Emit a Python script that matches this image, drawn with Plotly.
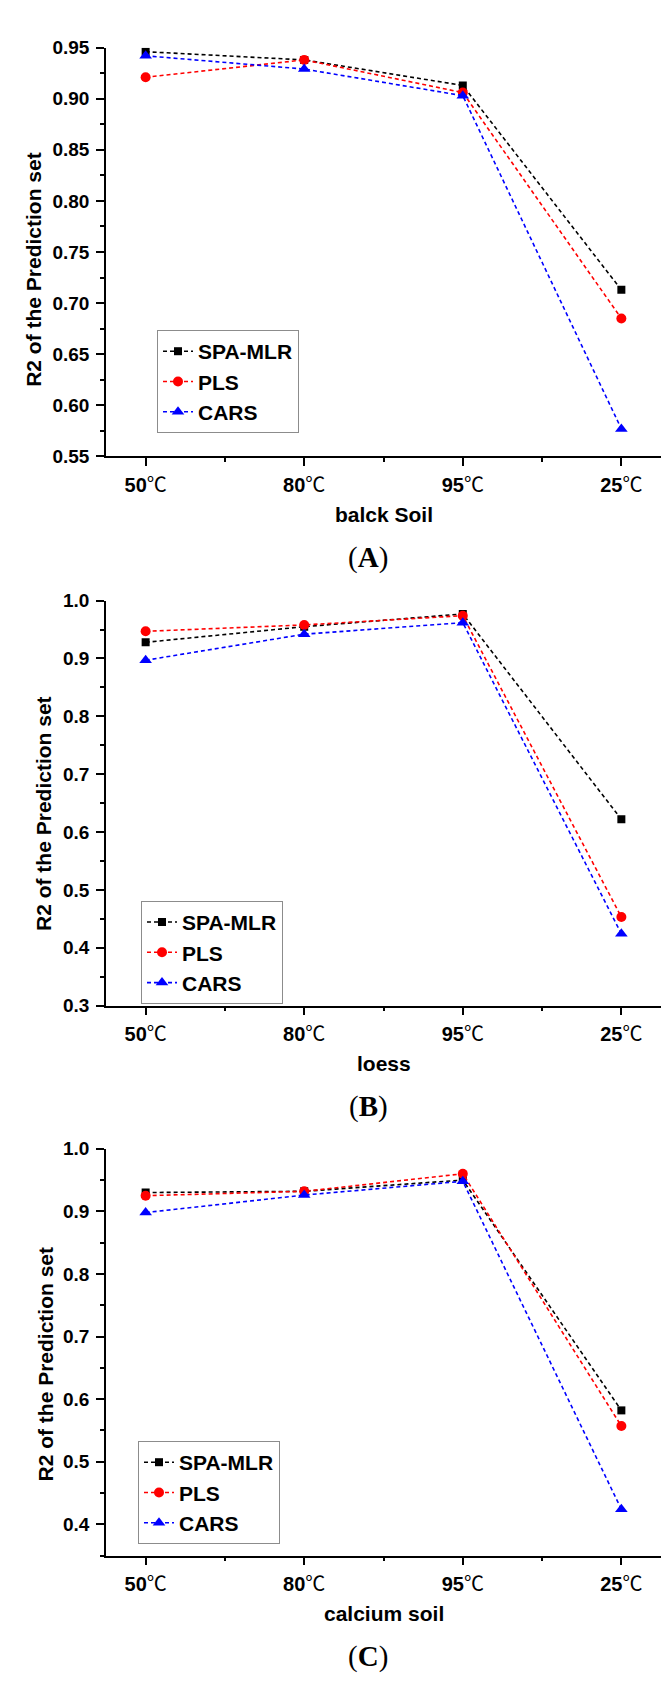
import plotly.graph_objects as go

# ---------------- data ----------------
categories = ["50℃", "80℃", "95℃", "25℃"]
series_names = ["SPA-MLR", "PLS", "CARS"]

a_spa = [0.946, 0.938, 0.913, 0.713]
a_pls = [0.921, 0.938, 0.906, 0.685]
a_cars = [0.942, 0.929, 0.903, 0.577]

b_spa = [0.928, 0.955, 0.977, 0.622]
b_pls = [0.947, 0.958, 0.974, 0.453]
b_cars = [0.897, 0.942, 0.962, 0.424]

c_spa = [0.930, 0.932, 0.950, 0.582]
c_pls = [0.925, 0.932, 0.960, 0.557]
c_cars = [0.898, 0.926, 0.948, 0.424]

x_titles = ["balck Soil", "loess", "calcium soil"]
panel_letters = ["A", "B", "C"]
y_title = "R2 of the Prediction set"

y_ranges = [[0.55, 0.95], [0.3, 1.0], [0.35, 1.0]]
y_tick0 = [0.55, 0.3, 0.4]
y_dtick = [0.05, 0.1, 0.1]
y_minor = [0.025, 0.05, 0.05]
y_fmt = [".2f", ".1f", ".1f"]

panels = [
    [a_spa, a_pls, a_cars],
    [b_spa, b_pls, b_cars],
    [c_spa, c_pls, c_cars],
]

# ---------------- style ----------------
W, H = 672, 1686
colors = ["#000000", "#ff0000", "#0000ff"]
symbols = ["square", "circle", "triangle-up"]
msizes = [8, 10, 11]
# pixel geometry of each panel (top, bottom of plot area)
plot_tb = [(30, 444), (590, 1000), (1145, 1557)]
x_left, x_right = 98, 653
ytitle_x = [26, 36, 37.5]
ytitle_y = [255, 806, 1363]
legend_pos = [(149, 316), (133, 894), (130, 1441)]

FONT = "Liberation Sans, Arial, Noto Sans CJK SC, sans-serif"

idx = list(range(len(categories)))
ticktext = []
for c in categories:
    num = c.rstrip("℃")
    ticktext.append("<b>" + num + "</b>℃")
minor_vals = [(idx[i] + idx[i + 1]) / 2 for i in range(len(idx) - 1)]

fig = go.Figure()
layout = dict(
    width=W, height=H, autosize=False,
    margin=dict(l=0, r=0, t=0, b=0),
    paper_bgcolor="white", plot_bgcolor="white",
    showlegend=True,
    annotations=[],
)

for p in range(3):
    sfx = "" if p == 0 else str(p + 1)
    leg = "legend" + sfx
    for s in range(3):
        fig.add_trace(go.Scatter(
            x=idx, y=panels[p][s],
            mode="lines+markers",
            name=series_names[s],
            line=dict(color=colors[s], width=1.6, dash="4px,3px"),
            marker=dict(symbol=symbols[s], size=msizes[s], color=colors[s],
                        line=dict(width=0)),
            xaxis="x" + sfx, yaxis="y" + sfx,
            legend=leg,
        ))
    top, bot = plot_tb[p]
    layout["xaxis" + sfx] = dict(
        domain=[x_left / W, x_right / W],
        anchor="y" + sfx,
        range=[-0.25, len(categories) - 0.75],
        tickmode="array", tickvals=idx, ticktext=ticktext,
        ticks="outside", ticklen=8, tickwidth=1.5, tickcolor="black",
        minor=dict(tickmode="array", tickvals=minor_vals, ticks="outside",
                   ticklen=4, tickwidth=1.5, tickcolor="black"),
        showline=True, linecolor="black", linewidth=1.6,
        showgrid=False, zeroline=False,
        tickfont=dict(family=FONT, size=20, color="black"),
        ticklabelstandoff=2,
        fixedrange=True,
    )
    layout["yaxis" + sfx] = dict(
        domain=[1 - bot / H, 1 - top / H],
        anchor="x" + sfx,
        range=y_ranges[p],
        tickmode="linear", tick0=y_tick0[p], dtick=y_dtick[p],
        tickformat=y_fmt[p],
        ticks="outside", ticklen=8, tickwidth=1.5, tickcolor="black",
        minor=dict(ticks="outside", ticklen=4, tickwidth=1.5, tickcolor="black",
                   tick0=y_ranges[p][0], dtick=y_minor[p]),
        showline=True, linecolor="black", linewidth=1.6,
        showgrid=False, zeroline=False,
        tickfont=dict(family=FONT, size=19, color="black", weight="bold"),
        ticklabelstandoff=3,
        fixedrange=True,
    )
    lx, ly = legend_pos[p]
    layout[leg] = dict(
        x=lx / W, y=1 - ly / H, xanchor="left", yanchor="top",
        xref="paper", yref="paper",
        bgcolor="white", bordercolor="#8c8c8c", borderwidth=1,
        font=dict(family=FONT, size=21, color="black", weight="bold"),
        itemwidth=30, tracegroupgap=0,
    )
    # y-axis title
    layout["annotations"].append(dict(
        text="<b>" + y_title + "</b>", textangle=-90,
        x=ytitle_x[p] / W, y=1 - ytitle_y[p] / H, xref="paper", yref="paper",
        xanchor="center", yanchor="middle", showarrow=False,
        font=dict(family=FONT, size=21, color="black"),
    ))
    # x-axis title
    layout["annotations"].append(dict(
        text="<b>" + x_titles[p] + "</b>",
        x=(x_left + x_right) / 2 / W, y=1 - (bot + 59) / H,
        xref="paper", yref="paper",
        xanchor="center", yanchor="middle", showarrow=False,
        font=dict(family=FONT, size=21, color="black"),
    ))
    # panel letter
    layout["annotations"].append(dict(
        text="(<b>" + panel_letters[p] + "</b>)",
        x=360 / W, y=1 - (bot + 102) / H,
        xref="paper", yref="paper",
        xanchor="center", yanchor="middle", showarrow=False,
        font=dict(family="Liberation Serif, Times New Roman, serif", size=29,
                  color="black"),
    ))

fig.update_layout(**layout)
fig.write_html("out.html")
